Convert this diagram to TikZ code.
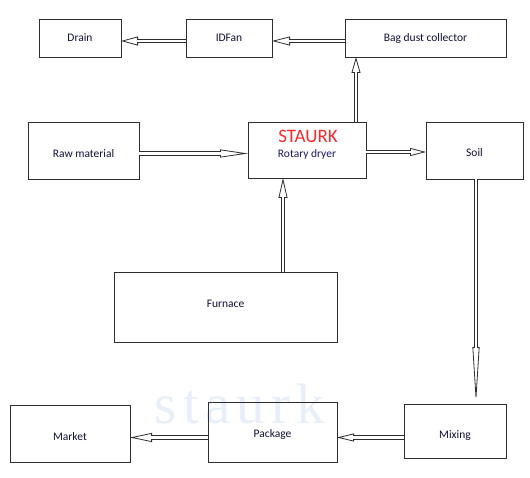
\documentclass[tikz,border=0pt]{standalone}
\usepackage{fontspec}
\setmainfont{Carlito}
\newfontfamily\markfont[LetterSpace=11]{Liberation Serif}
\usetikzlibrary{arrows.meta}
\usetikzlibrary{calc}

\definecolor{boxline}{RGB}{45,45,45}
\definecolor{textnavy}{RGB}{15,15,55}
\definecolor{dryerblue}{RGB}{25,25,100}
\definecolor{brandred}{RGB}{250,40,40}
\definecolor{marklight}{RGB}{232,239,248}

\tikzset{flow/.style 2 args={draw=white, line width=0.8pt,
		-{Triangle[open, length=#1, width=#2, color=boxline]},
		postaction={draw=boxline, -, double=white, double distance=2.5pt, shorten >=#1-1.2pt}}}

%% text set lower (or higher) in its box, box size kept
\newcommand{\lowtext}[2]{\raisebox{-#1}[\height][\depth]{#2}}

\begin{document}
\begin{tikzpicture}[x=1pt, y=-1pt]

		\tikzstyle{block} = [rectangle, draw=boxline, line width=0.8pt, inner sep=0pt, outer sep=0pt, text=textnavy, font=\fontsize{11.5}{13}\selectfont]
		\useasboundingbox (0, 0) rectangle (530, 478);

		%%Watermark behind everything
		\node [anchor=base, inner sep=0pt, text=marklight, font=\markfont\fontsize{57}{64}\selectfont] (mark) at (240, 423) {staurk};

		%%Top row
		\node [block, minimum width=82pt, minimum height=38pt](drain) at (80, 38) {Drain};
		\node [block, minimum width=86pt, minimum height=38pt](idfan) at (229, 38) {IDFan};
		\node [block, minimum width=161pt, minimum height=38pt](bag) at (425.5, 38) {Bag dust collector};

		%%Middle row
		\node [block, minimum width=111pt, minimum height=57pt](raw) at (83.5, 150.5) {\lowtext{3pt}{Raw material}};
		\node [block, minimum width=118pt, minimum height=56pt](dryer) at (307, 150) {};
		\node [text=brandred, font=\fontsize{19}{22}\selectfont](brand) at (308, 136) {STAURK};
		\node [text=dryerblue, font=\fontsize{11.5}{13}\selectfont](dryertext) at (307, 154) {Rotary dryer};
		\node [block, minimum width=97pt, minimum height=57pt](soil) at (474.5, 150.5) {\lowtext{2pt}{Soil}};
		\node [block, minimum width=223pt, minimum height=70pt](furnace) at (225.5, 307) {\lowtext{-3pt}{Furnace}};

		%%Bottom row
		\node [block, minimum width=120pt, minimum height=57pt](market) at (70, 433.5) {\lowtext{3.5pt}{Market}};
		\node [block, minimum width=129pt, minimum height=60pt](package) at (272.5, 432) {\lowtext{2.5pt}{Package}};
		\node [block, minimum width=102pt, minimum height=54pt](mixing) at (455, 431) {\lowtext{5pt}{Mixing}};

		%%Flows
		\draw [flow={17pt}{9pt}] ([yshift=-3pt]idfan.west) -- ([yshift=-3pt]drain.east);
		\draw [flow={18pt}{9pt}] ([yshift=-3pt]bag.west) -- ([yshift=-3pt]idfan.east);
		\draw [flow={28pt}{8pt}] ([yshift=-3pt]raw.east) -- ([yshift=-3pt]raw.east -| dryer.west);
		\draw [flow={16pt}{8pt}] ([yshift=-2pt]dryer.east) -- ([yshift=-2pt]dryer.east -| soil.west);
		\draw [flow={16pt}{9pt}] ([xshift=49pt]dryer.north) -- ([xshift=49pt]dryer.north |- bag.south);
		\draw [flow={20pt}{9pt}] ([xshift=57.5pt]furnace.north) -- ([xshift=57.5pt]furnace.north |- dryer.south);
		\draw [flow={57pt}{7pt}] ([xshift=1.5pt]soil.south) -- ([xshift=1.5pt]soil.south |- mixing.north);
		\draw [flow={17pt}{8pt}] ([yshift=-6.5pt]mixing.west) -- ([yshift=-6.5pt]mixing.west -| package.east);
		\draw [flow={22pt}{9pt}] ([yshift=-5.5pt]package.west) -- ([yshift=-5.5pt]package.west -| market.east);
	\end{tikzpicture}
\end{document}
